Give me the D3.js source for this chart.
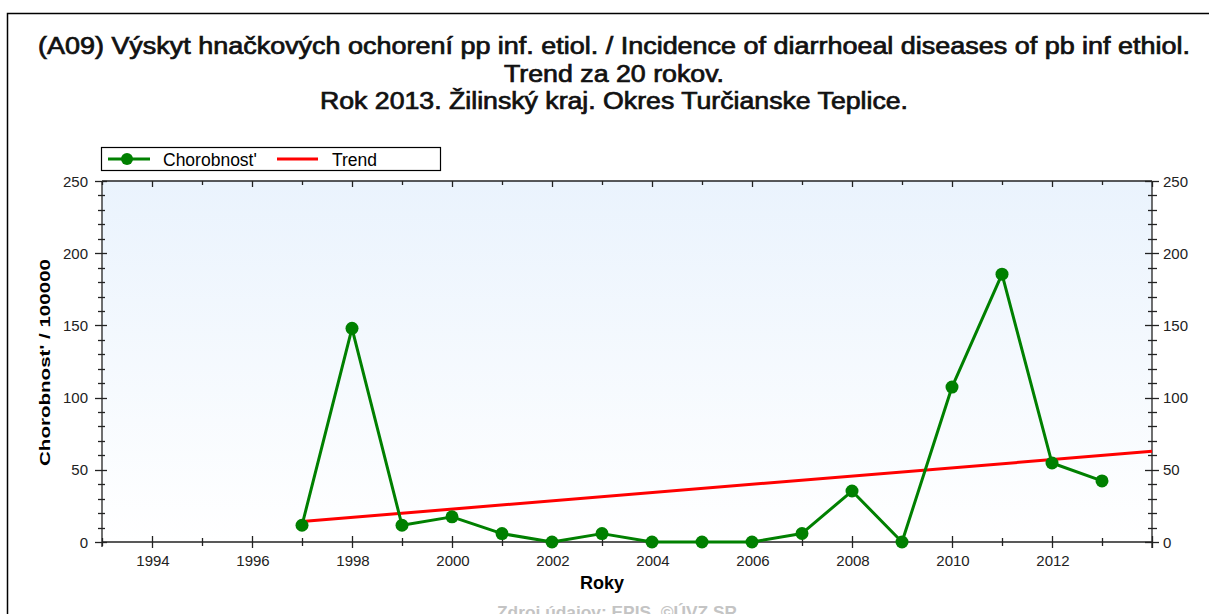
<!DOCTYPE html>
<html>
<head>
<meta charset="utf-8">
<script src="https://cdn.jsdelivr.net/npm/d3@7/dist/d3.min.js"></script>
<style>
  html, body { margin: 0; padding: 0; background: #fff; }
  svg { display: block; font-family: "Liberation Sans", Arial, sans-serif; }
</style>
</head>
<body>
<svg id="chart" width="1209" height="614"></svg>
<script>
// Incidence per 100 000 inhabitants, by year
const years = [1997, 1998, 1999, 2000, 2001, 2002, 2003, 2004, 2005, 2006, 2007, 2008, 2009, 2010, 2011, 2012, 2013];
const incidence = [11.6, 148, 11.6, 17.4, 5.8, 0, 5.8, 0, 0, 0, 5.9, 35.3, 0, 107.3, 185.5, 54.7, 42.3];

// Linear trend line end points
const trendYears = [1997, 2014];
const trendValues = [14.2, 62.8];

const yTicks = [0, 50, 100, 150, 200, 250];
const xTickYears = [1994, 1996, 1998, 2000, 2002, 2004, 2006, 2008, 2010, 2012];

const titleLines = [
  "(A09) Výskyt hnačkových ochorení pp inf. etiol. / Incidence of diarrhoeal diseases of pb inf ethiol.",
  "Trend za 20 rokov.",
  "Rok 2013. Žilinský kraj. Okres Turčianske Teplice."
];
const titleWidths = [1152, 220, 588];
const seriesNames = ["Chorobnost'", "Trend"];

const svg = d3.select("#chart");
const W = 1209, H = 614;
const m = { left: 102, right: 1152, top: 181, bottom: 542 };

// Outer frame
svg.append("rect").attr("x", 7.5).attr("y", 13.5).attr("width", W + 10).attr("height", H + 10)
  .attr("fill", "none").attr("stroke", "#000").attr("stroke-width", 1.5);

// Title
svg.append("g").selectAll("text").data(titleLines).join("text")
  .attr("x", 614).attr("y", (d, i) => 54 + i * 27.5)
  .attr("text-anchor", "middle").attr("font-size", 23).attr("fill", "#111")
  .attr("stroke", "#111").attr("stroke-width", 0.7)
  .attr("textLength", (d, i) => titleWidths[i]).attr("lengthAdjust", "spacingAndGlyphs")
  .text(d => d);

const x = d3.scaleLinear().domain([1993, 2014]).range([m.left, m.right]);
const y = d3.scaleLinear().domain([0, 250]).range([m.bottom, m.top]);

// Plot background gradient
const defs = svg.append("defs");
const grad = defs.append("linearGradient").attr("id", "bg").attr("x1", 0).attr("y1", 0).attr("x2", 0).attr("y2", 1);
grad.append("stop").attr("offset", "0%").attr("stop-color", "#eaf3fd");
grad.append("stop").attr("offset", "100%").attr("stop-color", "#ffffff");
svg.append("rect").attr("x", m.left).attr("y", m.top)
  .attr("width", m.right - m.left).attr("height", m.bottom - m.top).attr("fill", "url(#bg)");

const axisColor = "#222";
const allYears = d3.range(1993, 2015);
const minorY = d3.range(0, 251, 10);

const ag = svg.append("g").attr("stroke", axisColor).attr("stroke-width", 1.3);
// frame lines
ag.append("line").attr("x1", m.left).attr("x2", m.right).attr("y1", m.bottom).attr("y2", m.bottom);
ag.append("line").attr("x1", m.left).attr("x2", m.right).attr("y1", m.top).attr("y2", m.top);
ag.append("line").attr("x1", m.left).attr("x2", m.left).attr("y1", m.top).attr("y2", m.bottom + 5);
ag.append("line").attr("x1", m.right).attr("x2", m.right).attr("y1", m.top).attr("y2", m.bottom + 6);

// x ticks (bottom and top)
allYears.forEach(yr => {
  const major = yr % 2 === 0;
  const px = Math.round(x(yr)) + 0.5;
  const len = major ? 6 : 4;
  ag.append("line").attr("x1", px).attr("x2", px).attr("y1", m.bottom - len).attr("y2", m.bottom + len);
  ag.append("line").attr("x1", px).attr("x2", px).attr("y1", m.top).attr("y2", m.top + (major ? 6 : 4));
});
// y ticks (left and right)
minorY.forEach(v => {
  const major = v % 50 === 0;
  const py = Math.round(y(v)) + 0.5;
  const o = major ? 7 : 4, i = major ? 5 : 3;
  ag.append("line").attr("x1", m.left - o).attr("x2", m.left + i).attr("y1", py).attr("y2", py);
  ag.append("line").attr("x1", m.right - o).attr("x2", m.right + i + 2).attr("y1", py).attr("y2", py);
});

// tick labels
const tl = svg.append("g").attr("font-size", 15).attr("fill", "#222");
tl.selectAll(".yl").data(yTicks).join("text").attr("class", "yl")
  .attr("x", m.left - 14).attr("y", d => y(d) + 5.5).attr("text-anchor", "end").text(d => d);
tl.selectAll(".yr").data(yTicks).join("text").attr("class", "yr")
  .attr("x", m.right + 11).attr("y", d => y(d) + 5.5).attr("text-anchor", "start").text(d => d);
tl.selectAll(".xl").data(xTickYears).join("text").attr("class", "xl")
  .attr("x", d => x(d) + 1).attr("y", m.bottom + 24).attr("text-anchor", "middle").text(d => d);

// axis titles
svg.append("text").attr("transform", `translate(50,${(m.top + m.bottom) / 2 + 1}) rotate(-90)`)
  .attr("text-anchor", "middle").attr("font-size", 15.5).attr("font-weight", "bold").attr("fill", "#000")
  .attr("textLength", 207).attr("lengthAdjust", "spacingAndGlyphs")
  .text("Chorobnost' / 100000");
svg.append("text").attr("x", 602).attr("y", 589).attr("text-anchor", "middle")
  .attr("font-size", 18).attr("font-weight", "bold").attr("fill", "#000").text("Roky");
svg.append("text").attr("x", 617).attr("y", 618).attr("text-anchor", "middle")
  .attr("font-size", 17).attr("font-weight", "bold").attr("fill", "#c4c4c4")
  .attr("textLength", 240).attr("lengthAdjust", "spacingAndGlyphs")
  .text("Zdroj údajov: EPIS, ©ÚVZ SR");

// trend line
const trend = trendYears.map((yr, i) => ({ yr, v: trendValues[i] }));
svg.append("path").datum(trend)
  .attr("d", d3.line().x(d => x(d.yr)).y(d => y(d.v)))
  .attr("fill", "none").attr("stroke", "#ff0000").attr("stroke-width", 3);

// incidence series
const pts = years.map((yr, i) => ({ yr, v: incidence[i] }));
svg.append("path").datum(pts)
  .attr("d", d3.line().x(d => x(d.yr)).y(d => y(d.v)))
  .attr("fill", "none").attr("stroke", "#008000").attr("stroke-width", 3).attr("stroke-linejoin", "round");
svg.append("g").selectAll("circle").data(pts).join("circle")
  .attr("cx", d => x(d.yr)).attr("cy", d => y(d.v)).attr("r", 6.5).attr("fill", "#008000");

// legend
const lg = svg.append("g");
lg.append("rect").attr("x", 101.5).attr("y", 147.5).attr("width", 339).attr("height", 23)
  .attr("fill", "#fff").attr("stroke", "#000").attr("stroke-width", 1.2);
lg.append("line").attr("x1", 108).attr("x2", 150).attr("y1", 159).attr("y2", 159)
  .attr("stroke", "#008000").attr("stroke-width", 3);
lg.append("circle").attr("cx", 127).attr("cy", 159).attr("r", 6).attr("fill", "#008000");
lg.append("line").attr("x1", 277).attr("x2", 318).attr("y1", 159).attr("y2", 159)
  .attr("stroke", "#ff0000").attr("stroke-width", 3);
lg.selectAll("text").data(seriesNames).join("text")
  .attr("x", (d, i) => i === 0 ? 163 : 332).attr("y", 165.5)
  .attr("font-size", 17.5).attr("fill", "#000").text(d => d);
</script>
</body>
</html>
